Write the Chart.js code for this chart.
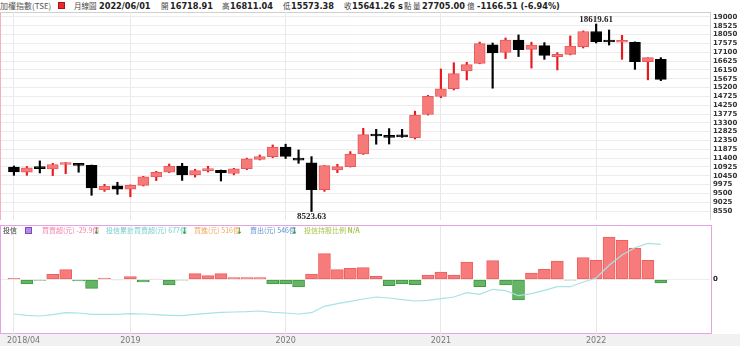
<!DOCTYPE html>
<html>
<head>
<meta charset="utf-8">
<script src="https://cdn.jsdelivr.net/npm/chart.js@4.4.1/dist/chart.umd.min.js"></script>
<style>
    body { margin: 0; width: 740px; height: 346px; background: #fff; position: relative; overflow: hidden; font-family: "Noto Sans CJK TC", "DejaVu Sans", sans-serif; }
    .t { position: absolute; white-space: nowrap; line-height: 1; }
    .n { font-family: "DejaVu Sans", sans-serif; font-weight: bold; font-size: 8.2px; color: #222; top: 2px; }
    .c { font-size: 7.5px; color: #444; top: 2px; }
    .lg { font-size: 7px; top: 227px; }
    .ar { font-size: 7px; top: 227px; color: #2a9a2a; font-weight: bold; }
    #mainBox { position: absolute; left: 0; top: 12px; width: 711px; height: 208px; border-top: 1px solid #cfcfcf; border-right: 1px solid #cfcfcf; border-left: 1px solid #f4b0bc; box-sizing: border-box; }
    #subBox { position: absolute; left: 0; top: 225px; width: 712px; height: 109px; border: 1px solid #e4a4e4; box-sizing: border-box; }
    #strip { position: absolute; left: 0; top: 334px; width: 740px; height: 12px; background: #f1f1f1; }
    canvas { position: absolute; left: 0; }
    #kChart { top: 12px; }
    #subChart { top: 226px; }
</style>
</head>
<body>
<div id="mainBox"></div>
<div id="strip"></div>
<div id="subBox"></div>

<!-- header -->
<span class="t c" style="left:0px;font-size:8px;color:#555">加權指數(TSE)</span>
<span class="t" style="left:58px;top:2px;width:7px;height:7px;background:#e8282f;border:1px solid #b01010;box-sizing:border-box"></span>
<span class="t c" style="left:74px">月線圖</span>
<span class="t n" style="left:99px">2022/06/01</span>
<span class="t c" style="left:161px">開</span>
<span class="t n" style="left:170px">16718.91</span>
<span class="t c" style="left:222px">高</span>
<span class="t n" style="left:230px">16811.04</span>
<span class="t c" style="left:283px">低</span>
<span class="t n" style="left:291px">15573.38</span>
<span class="t c" style="left:344px">收</span>
<span class="t n" style="left:352px">15641.26</span>
<span class="t n" style="left:398px">s</span>
<span class="t c" style="left:404px">點</span>
<span class="t c" style="left:413px">量</span>
<span class="t n" style="left:422px">27705.00</span>
<span class="t c" style="left:467px">億</span>
<span class="t n" style="left:477px">-1166.51 (-6.94%)</span>

<canvas id="kChart" width="740" height="208"></canvas>
<canvas id="subChart" width="740" height="120"></canvas>

<!-- sub panel legend -->
<span class="t lg" style="left:3px;color:#333">投信</span>
<span class="t" style="left:25px;top:227px;width:7px;height:7px;background:#b48ae6;border:1px solid #7a4cc0;box-sizing:border-box"></span>
<span class="t lg" style="left:42px;color:#f27ea6">買賣超(元) -29.9億</span>
<span class="t ar" style="left:93px">↓</span>
<span class="t lg" style="left:106px;color:#76cccc">投信累計買賣超(元) 677億</span>
<span class="t ar" style="left:181px">↓</span>
<span class="t lg" style="left:194px;color:#f4a65a">買進(元) 516億</span>
<span class="t ar" style="left:236px">↓</span>
<span class="t lg" style="left:250px;color:#5a92d4">賣出(元) 546億</span>
<span class="t ar" style="left:291px">↓</span>
<span class="t lg" style="left:304px;color:#a6c44e">投信持股比例 <b>N/A</b></span>

<script>
// monthly candles, 2018/04 .. 2022/06
const months = [
    "2018/04", "2018/05", "2018/06", "2018/07", "2018/08", "2018/09", "2018/10", "2018/11", "2018/12",
    "2019/01", "2019/02", "2019/03", "2019/04", "2019/05", "2019/06", "2019/07", "2019/08", "2019/09", "2019/10", "2019/11", "2019/12",
    "2020/01", "2020/02", "2020/03", "2020/04", "2020/05", "2020/06", "2020/07", "2020/08", "2020/09", "2020/10", "2020/11", "2020/12",
    "2021/01", "2021/02", "2021/03", "2021/04", "2021/05", "2021/06", "2021/07", "2021/08", "2021/09", "2021/10", "2021/11", "2021/12",
    "2022/01", "2022/02", "2022/03", "2022/04", "2022/05", "2022/06"
];
const openP = [10919, 10640, 10875, 10820, 11057, 11064, 11006, 9705, 9910,
    9727, 9932, 10389, 10641, 10968, 10498, 10731, 10745, 10570, 10830, 11335, 11480,
    12000, 11340, 11140, 9700, 10770, 10945, 11630, 12640, 12560, 12570, 12500, 13750,
    14720, 15140, 16090, 16500, 17500, 17090, 17760, 17260, 17460, 16870, 16990, 17400,
    18220, 17700, 17640, 17630, 16592, 16718.91];
const highP = [10976, 10950, 11250, 11120, 11160, 11090, 11030, 9990, 10100,
    9960, 10420, 10690, 11084, 11120, 10800, 10958, 10760, 10850, 11400, 11570, 12110,
    12150, 11840, 11480, 11000, 11066, 11750, 13005, 12950, 12990, 12950, 13930, 14780,
    16200, 16540, 16560, 17650, 17600, 17870, 18034, 17640, 17620, 17080, 17980, 18250,
    18619.61, 18300, 18013, 17660, 16810, 16811.04];
const lowP = [10474, 10475, 10600, 10460, 10560, 10640, 9400, 9610, 9450,
    9319, 9900, 10190, 10620, 10200, 10380, 10653, 10169, 10500, 10780, 11300, 11420,
    11380, 11120, 8523.63, 9610, 10620, 10920, 11600, 12150, 12160, 12520, 12430, 13720,
    14650, 15070, 15610, 16480, 15165, 16760, 16870, 16249, 16720, 16150, 16960, 17330,
    17600, 17490, 16720, 16180, 15616, 15573.38];
const closeP = [10658, 10875, 10837, 11057, 11064, 11006, 9802, 9888, 9727,
    9932, 10389, 10641, 10968, 10498, 10731, 10823, 10618, 10830, 11358, 11489, 11997,
    11495, 11292, 9708, 10992, 10942, 11621, 12664, 12591, 12515, 12546, 13723, 14733,
    15138, 15954, 16431, 17567, 17068, 17755, 17247, 17490, 16935, 16987, 17428, 18219,
    17674, 17652, 17693, 16592, 16808, 15641.26];

// 投信 net buy/sell per month and cumulative (億)
const netBuy = [10, -38, -8, 44, 84, -12, -75, 12, -4,
    24, -21, 4, -47, -6, 50, 33, 50, 16, 16, 16, -38,
    -38, -64, 47, 220, 84, 95, 101, 27, -52, -38, -44, 38,
    64, 38, 149, -61, 160, -47, -174, 55, 86, 157, -5, 186,
    163, 361, 333, 268, 163, -29.9];
const cumBuy = [-1763, -1808, -1833, -1787, -1717, -1728, -1773, -1773, -1773,
    -1752, -1763, -1787, -1808, -1822, -1773, -1738, -1703, -1693, -1682, -1658, -1703,
    -1728, -1763, -1717, -1493, -1402, -1318, -1238, -1168, -1203, -1262, -1308, -1283,
    -1227, -1168, -1017, -1073, -898, -947, -1122, -1052, -933, -807, -807, -643,
    -503, -58, 302, 558, 712, 677];

const yTicks = [19000, 18525, 18050, 17575, 17100, 16625, 16150, 15675, 15200, 14725, 14250, 13775,
    13300, 12825, 12350, 11875, 11400, 10925, 10450, 9975, 9500, 9025, 8550];
const axisMonths = ["2018/04", "2019/01", "2020/01", "2021/01", "2022/01"];
const axisLabels = ["2018/04", "2019", "2020", "2021", "2022"];
const axisIdx = axisMonths.map(m => months.indexOf(m));

const upFill = "#f77a7a";
const upLine = "#e85a5a";
const upWick = "#e8191e";
const downFill = "#000";

const isUp = months.map((m, i) => closeP[i] >= openP[i]);

function xAxis(tickLen, h) {
    return {
        type: "linear",
        min: -1,
        max: 53.8,
        offset: false,
        afterBuildTicks: s => { s.ticks = axisIdx.map(v => ({value: v})); },
        afterFit: s => { s.height = h; s.paddingLeft = 0; s.paddingRight = 0; },
        ticks: {display: false},
        grid: {color: "#e8e8e8", drawTicks: tickLen > 0, tickLength: tickLen, offset: false},
        border: {display: false}
    };
}

// keep the plot area exactly where the panel box is
function fitRight(s) {
    s.width = 30;
    s.paddingTop = 0;
    s.paddingBottom = 0;
}

// labels for the highest high and lowest low
const extremesPlugin = {
    id: "extremes",
    afterDatasetsDraw(chart) {
        const ctx = chart.ctx;
        const xs = chart.scales.x, ys = chart.scales.y;
        let hi = 0, lo = 0;
        for (let i = 1; i < months.length; i++) {
            if (highP[i] > highP[hi]) hi = i;
            if (lowP[i] < lowP[lo]) lo = i;
        }
        ctx.save();
        ctx.font = "bold 9px 'Liberation Serif'";
        ctx.fillStyle = "#222";
        ctx.textAlign = "center";
        ctx.textBaseline = "bottom";
        ctx.fillText(highP[hi].toFixed(2), xs.getPixelForValue(hi), ys.getPixelForValue(highP[hi]) + 0.5);
        ctx.textBaseline = "top";
        ctx.fillText(lowP[lo].toFixed(2), xs.getPixelForValue(lo), ys.getPixelForValue(lowP[lo]) + 0.5);
        ctx.restore();
    }
};

new Chart(document.getElementById("kChart"), {
    type: "bar",
    data: {
        datasets: [{
            label: "wick",
            order: 2,
            data: months.map((m, i) => ({x: i, y: [lowP[i], highP[i]]})),
            backgroundColor: isUp.map(u => u ? upWick : "#000"),
            barThickness: 1.5,
            grouped: false
        }, {
            label: "body",
            order: 1,
            data: months.map((m, i) => ({x: i, y: [openP[i], closeP[i]]})),
            backgroundColor: isUp.map(u => u ? upFill : downFill),
            borderColor: isUp.map(u => u ? upLine : "#000"),
            borderWidth: 1,
            borderSkipped: false,
            barThickness: 11,
            minBarLength: 2,
            grouped: false
        }]
    },
    options: {
        responsive: false,
        animation: false,
        devicePixelRatio: 1,
        layout: {padding: {left: 1, top: 0, bottom: 0, right: 0}},
        plugins: {legend: {display: false}, tooltip: {enabled: false}},
        scales: {
            x: xAxis(0, 0),
            y: {
                position: "right",
                min: 8068,
                max: 19269,
                afterBuildTicks: s => { s.ticks = yTicks.map(v => ({value: v})); },
                afterFit: fitRight,
                ticks: {autoSkip: false, padding: 3, color: "#333", font: {family: "DejaVu Sans", size: 7, weight: "bold"},
                    callback: v => String(v)},
                grid: {color: "#ececec", drawTicks: false},
                border: {display: false}
            }
        }
    },
    plugins: [extremesPlugin]
});

// date labels under the sub panel
const dateLabelPlugin = {
    id: "dates",
    afterDraw(chart) {
        const ctx = chart.ctx;
        const xs = chart.scales.x;
        ctx.save();
        ctx.font = "8px 'DejaVu Sans'";
        ctx.fillStyle = "#777";
        ctx.textBaseline = "middle";
        axisIdx.forEach((v, k) => {
            const px = xs.getPixelForValue(v);
            ctx.textAlign = k === 0 ? "left" : "center";
            ctx.fillText(axisLabels[k], k === 0 ? px - 7 : px, chart.chartArea.bottom + 8);
        });
        ctx.restore();
    }
};

new Chart(document.getElementById("subChart"), {
    type: "bar",
    data: {
        datasets: [{
            type: "line",
            label: "投信累計買賣超",
            order: 0,
            yAxisID: "y2",
            data: months.map((m, i) => ({x: i, y: cumBuy[i]})),
            borderColor: "#a8e2e2",
            borderWidth: 1.2,
            pointRadius: 0,
            tension: 0
        }, {
            label: "買賣超",
            order: 1,
            data: months.map((m, i) => ({x: i, y: netBuy[i]})),
            backgroundColor: netBuy.map(v => v >= 0 ? "#f77b7b" : "#66b566"),
            borderColor: netBuy.map(v => v >= 0 ? "#ee5f5f" : "#3f9a3f"),
            borderWidth: 1,
            borderSkipped: false,
            barThickness: 12,
            grouped: false
        }]
    },
    options: {
        responsive: false,
        animation: false,
        devicePixelRatio: 1,
        layout: {padding: {left: 1, top: 0, bottom: 0, right: 0}},
        plugins: {legend: {display: false}, tooltip: {enabled: false}},
        scales: {
            x: xAxis(3, 13),
            y: {
                position: "right",
                min: -455,
                max: 455,
                afterBuildTicks: s => { s.ticks = [{value: 0}]; },
                afterFit: fitRight,
                ticks: {padding: 3, color: "#222", font: {family: "DejaVu Sans", size: 7, weight: "bold"}},
                grid: {color: "#eeeeee", drawTicks: false},
                border: {display: false}
            },
            y2: {
                display: false,
                min: -2428,
                max: 1318
            }
        }
    },
    plugins: [dateLabelPlugin]
});
</script>
</body>
</html>
